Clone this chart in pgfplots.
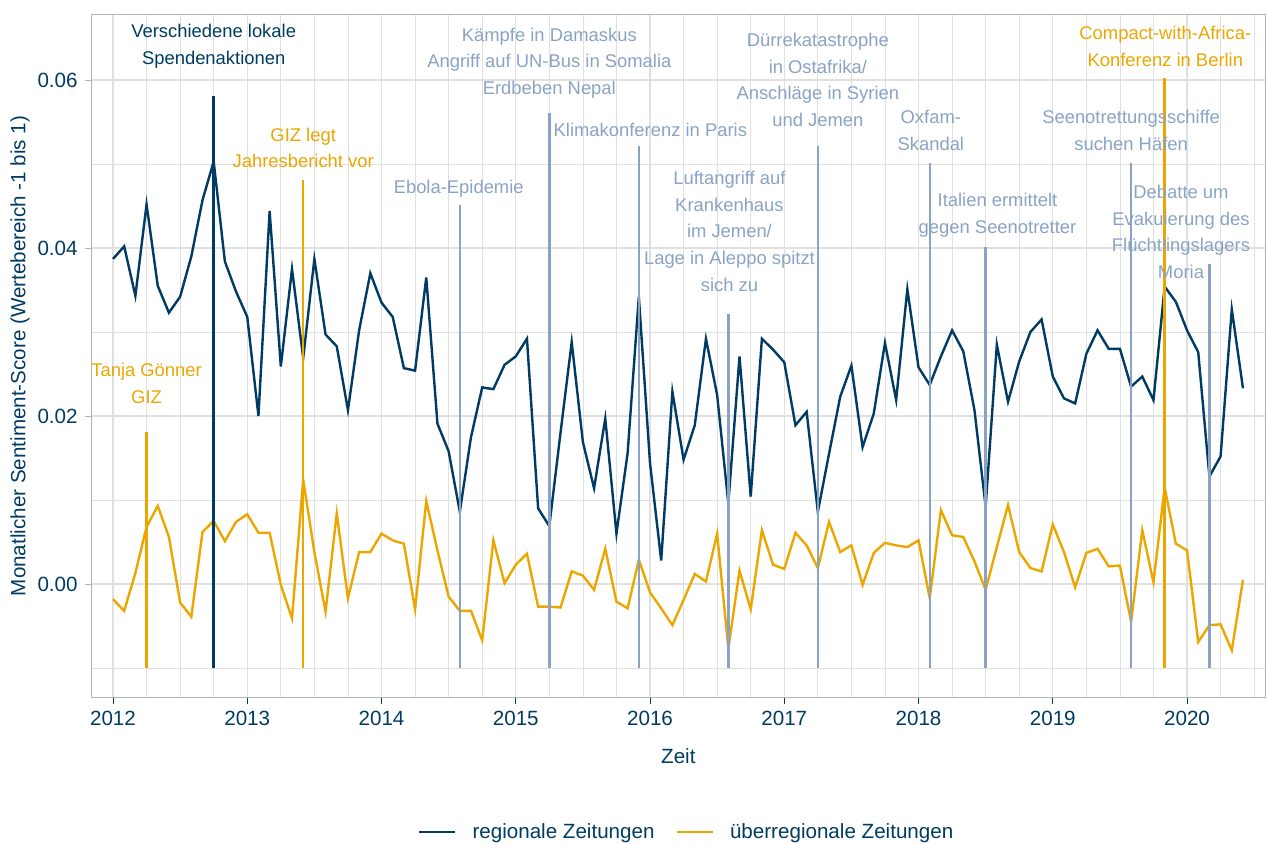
\documentclass[border=0pt]{standalone}
\usepackage{fontspec}
\setmainfont{Liberation Sans}
\usepackage{pgfplots}
\usepackage{pgfplotstable}
\pgfplotsset{compat=1.18}

\definecolor{navy}{RGB}{0,59,99}
\definecolor{gold}{RGB}{236,166,0}
\definecolor{evblue}{RGB}{138,163,197}
\definecolor{gridc}{RGB}{224,224,224}
\definecolor{borderc}{RGB}{179,179,179}

\newcommand\annfont{\fontsize{9.2}{13.35}\selectfont}
\newcommand\labfont{\fontsize{10.3}{12}\selectfont}

% m = Monat ab Jan 2012, reg = regionale, ueb = ueberregionale Zeitungen
\pgfplotstableread{
m reg ueb
0 0.0387 -0.0018
1 0.0402 -0.0032
2 0.0343 0.0013
3 0.0452 0.0068
4 0.0355 0.0093
5 0.0323 0.0056
6 0.0342 -0.0022
7 0.0390 -0.0039
8 0.0457 0.0062
9 0.0503 0.0075
10 0.0384 0.0051
11 0.0348 0.0074
12 0.0318 0.0083
13 0.0200 0.0061
14 0.0444 0.0061
15 0.0259 -0.0001
16 0.0375 -0.0041
17 0.0269 0.0124
18 0.0387 0.0038
19 0.0297 -0.0033
20 0.0283 0.0084
21 0.0207 -0.0017
22 0.0302 0.0038
23 0.0370 0.0038
24 0.0335 0.0060
25 0.0318 0.0052
26 0.0257 0.0048
27 0.0254 -0.0030
28 0.0365 0.0099
29 0.0191 0.0040
30 0.0158 -0.0015
31 0.0086 -0.0032
32 0.0175 -0.0032
33 0.0234 -0.0067
34 0.0232 0.0052
35 0.0261 0.0001
36 0.0271 0.0023
37 0.0292 0.0036
38 0.0090 -0.0027
39 0.0069 -0.0027
40 0.0180 -0.0028
41 0.0288 0.0015
42 0.0169 0.0010
43 0.0114 -0.0007
44 0.0197 0.0042
45 0.0060 -0.0021
46 0.0156 -0.0029
47 0.0342 0.0029
48 0.0144 -0.0010
49 0.0028 -0.0029
50 0.0229 -0.0049
51 0.0148 -0.0019
52 0.0189 0.0012
53 0.0292 0.0003
54 0.0225 0.0060
55 0.0096 -0.0077
56 0.0271 0.0016
57 0.0104 -0.0030
58 0.0292 0.0064
59 0.0279 0.0023
60 0.0264 0.0018
61 0.0189 0.0061
62 0.0205 0.0046
63 0.0086 0.0019
64 0.0155 0.0074
65 0.0223 0.0038
66 0.0260 0.0046
67 0.0163 -0.0001
68 0.0203 0.0037
69 0.0287 0.0049
70 0.0219 0.0046
71 0.0351 0.0044
72 0.0258 0.0052
73 0.0237 -0.0017
74 0.0271 0.0088
75 0.0302 0.0058
76 0.0277 0.0056
77 0.0207 0.0027
78 0.0092 -0.0007
79 0.0285 0.0044
80 0.0217 0.0094
81 0.0265 0.0038
82 0.0300 0.0019
83 0.0315 0.0015
84 0.0247 0.0071
85 0.0221 0.0038
86 0.0215 -0.0004
87 0.0274 0.0037
88 0.0302 0.0042
89 0.0280 0.0021
90 0.0280 0.0022
91 0.0235 -0.0045
92 0.0247 0.0064
93 0.0219 0.0002
94 0.0354 0.0115
95 0.0336 0.0048
96 0.0302 0.0040
97 0.0276 -0.0069
98 0.0128 -0.0049
99 0.0152 -0.0048
100 0.0327 -0.0079
101 0.0233 0.0005
}\sentiment

\begin{document}
\begin{tikzpicture}
\begin{axis}[
  scale only axis,
  width=586.65pt, height=341.15pt,
  xmin=-1.904, xmax=102.97,
  ymin=-0.013452, ymax=0.067774,
  xtick={0,12,...,96},
  xticklabels={2012,2013,2014,2015,2016,2017,2018,2019,2020},
  minor xtick={3,6,9,15,18,21,27,30,33,39,42,45,51,54,57,63,66,69,75,78,81,87,90,93,99,102},
  ytick={0,0.02,0.04,0.06},
  minor ytick={-0.01,0.01,0.03,0.05},
  yticklabel style={/pgf/number format/.cd, fixed, fixed zerofill, precision=2},
  scaled y ticks=false,
  /pgf/number format/assume math mode=true,
  ticklabel style={font=\labfont, text=navy},
  tick align=outside,
  major tick length=3.5pt,
  minor tick length=0pt,
  xtick style={navy, line width=0.5pt},
  ytick style={borderc, line width=0.5pt},
  axis x line*=bottom, axis y line*=left,
  axis line style={draw=none},
  grid=both,
  major grid style={gridc, line width=0.6pt},
  minor grid style={gridc, line width=0.35pt},
  xlabel={Zeit},
  ylabel={Monatlicher Sentiment-Score (Wertebereich -1 bis 1)},
  label style={font=\labfont, text=navy},
  xlabel style={at={(axis description cs:0.5,-0.0865)}, anchor=center},
  ylabel style={at={(axis description cs:-0.0611,0.5)}, anchor=center},
  legend style={at={(axis description cs:0.508,-0.198)}, anchor=center,
    draw=none, fill=none, font=\labfont, text=navy, legend columns=2,
    /tikz/every odd column/.append style={column sep=6pt},
    /tikz/every even column/.append style={column sep=8.5pt}},
  legend image code/.code={\draw[#1] (0pt,0pt) -- (18pt,0pt);},
  clip=false,
]
\addplot[navy, line width=1.2pt] table[x=m, y=reg] {\sentiment};
\addplot[gold, line width=1.2pt] table[x=m, y=ueb] {\sentiment};
\legend{regionale Zeitungen, überregionale Zeitungen}

% Ereignislinien
\addplot[gold, line width=1.2pt, forget plot] coordinates {(3,-0.01)(3,0.0181)};
\addplot[navy, line width=1.2pt, forget plot] coordinates {(9,-0.01)(9,0.0581)};
\addplot[gold, line width=1.2pt, forget plot] coordinates {(17,-0.01)(17,0.0481)};
\addplot[evblue, line width=1.2pt, forget plot] coordinates {(31,-0.01)(31,0.0451)};
\addplot[evblue, line width=1.2pt, forget plot] coordinates {(39,-0.01)(39,0.0561)};
\addplot[evblue, line width=1.2pt, forget plot] coordinates {(47,-0.01)(47,0.0521)};
\addplot[evblue, line width=1.2pt, forget plot] coordinates {(55,-0.01)(55,0.0321)};
\addplot[evblue, line width=1.2pt, forget plot] coordinates {(63,-0.01)(63,0.0521)};
\addplot[evblue, line width=1.2pt, forget plot] coordinates {(73,-0.01)(73,0.0501)};
\addplot[evblue, line width=1.2pt, forget plot] coordinates {(78,-0.01)(78,0.0401)};
\addplot[evblue, line width=1.2pt, forget plot] coordinates {(91,-0.01)(91,0.0501)};
\addplot[gold, line width=1.2pt, forget plot] coordinates {(94,-0.01)(94,0.0602)};
\addplot[evblue, line width=1.2pt, forget plot] coordinates {(98,-0.01)(98,0.0381)};

% Beschriftungen
\begin{scope}[every node/.style={font=\annfont, align=center, anchor=center}]
\node[text=gold] at (axis cs:3,0.0239) {Tanja Gönner\\GIZ};
\node[text=navy] at (axis cs:9,0.0640) {Verschiedene lokale\\Spendenaktionen};
\node[text=gold] at (axis cs:17,0.0519) {GIZ legt\\Jahresbericht vor};
\node[text=evblue] at (axis cs:30.9,0.0470) {Ebola-Epidemie};
\node[text=evblue] at (axis cs:39,0.0620) {Kämpfe in Damaskus\\Angriff auf UN-Bus in Somalia\\Erdbeben Nepal};
\node[text=evblue] at (axis cs:48.03,0.0540) {Klimakonferenz in Paris};
\node[text=evblue] at (axis cs:55.1,0.0420) {Luftangriff auf\\Krankenhaus\\im Jemen/\\Lage in Aleppo spitzt\\sich zu};
\node[text=evblue] at (axis cs:63,0.0600) {Dürrekatastrophe\\in Ostafrika/\\Anschläge in Syrien\\und Jemen};
\node[text=evblue] at (axis cs:73.1,0.0540) {Oxfam-\\Skandal};
\node[text=evblue] at (axis cs:79.06,0.0439) {Italien ermittelt\\gegen Seenotretter};
\node[text=evblue] at (axis cs:91,0.0540) {Seenotrettungsschiffe\\suchen Häfen};
\node[text=gold] at (axis cs:94.06,0.0640) {Compact-with-Africa-\\Konferenz in Berlin};
\node[text=evblue] at (axis cs:95.46,0.0419) {Debatte um\\Evakuierung des\\Flüchtlingslagers\\Moria};
\end{scope}

\draw[borderc, line width=0.5pt] (rel axis cs:0,0) rectangle (rel axis cs:1,1);
\end{axis}
\pgfresetboundingbox
\path[use as bounding box] (-45.85pt,-73pt) rectangle (587.65pt,348.5pt);
\end{tikzpicture}
\end{document}
